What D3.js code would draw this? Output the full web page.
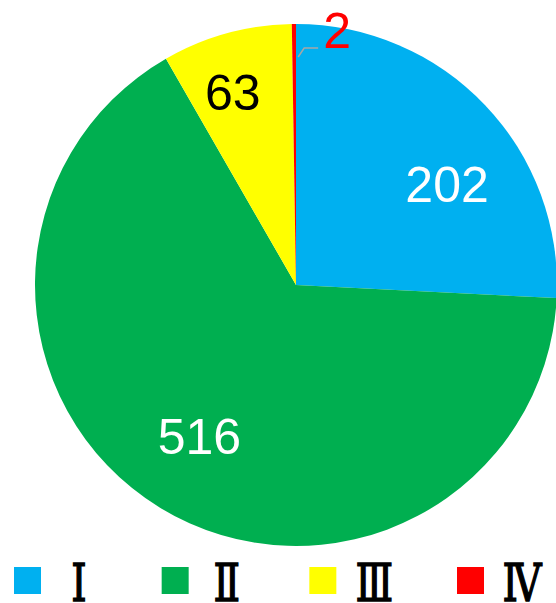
<!DOCTYPE html>
<html>
<head>
<meta charset="utf-8">
<script src="https://cdn.jsdelivr.net/npm/d3@7"></script>
<style>
  body { margin: 0; background: #fff; }
</style>
</head>
<body>
<div id="chart"></div>
<script>
const categories = ["Ⅰ", "Ⅱ", "Ⅲ", "Ⅳ"];
const values = [202, 516, 63, 2];
const colors = ["#00B0F0", "#00AF50", "#FFFF00", "#FF0000"];
const labelColors = ["#fff", "#fff", "#000", "#FF0000"];
// small nudges so labels sit where the original put them
const labelNudge = [[17, 27], [0, -6], [-14, -14], [0, 0]];

const width = 556, height = 603;
const cx = 296, cy = 285, radius = 261;

const svg = d3.select("#chart").append("svg")
    .attr("width", width)
    .attr("height", height);

const data = categories.map((c, i) => ({
    name: c, value: values[i], color: colors[i],
    labelColor: labelColors[i], nudge: labelNudge[i]
}));

const pie = d3.pie().value(d => d.value).sort(null);
const arcs = pie(data);

const arc = d3.arc().innerRadius(0).outerRadius(radius);
const labelArc = d3.arc().innerRadius(185).outerRadius(185);

const g = svg.append("g").attr("transform", `translate(${cx},${cy})`);

g.selectAll("path")
    .data(arcs)
    .join("path")
    .attr("d", arc)
    .attr("fill", d => d.data.color);

// inside labels for the big slices
g.selectAll(".label")
    .data(arcs.filter(d => d.data.value > 10))
    .join("text")
    .attr("class", "label")
    .attr("transform", d => {
        const c = labelArc.centroid(d);
        return `translate(${c[0] + d.data.nudge[0]},${c[1] + d.data.nudge[1]})`;
    })
    .attr("text-anchor", "middle")
    .attr("dominant-baseline", "central")
    .style("font-family", "Liberation Sans, Arial, sans-serif")
    .style("font-size", "50px")
    .style("fill", d => d.data.labelColor)
    .text(d => d.data.value);

// the tiny slice gets an outside label with a leader line
const small = arcs.filter(d => d.data.value <= 10);
small.forEach(d => {
    const mid = (d.startAngle + d.endAngle) / 2;
    const p0 = [Math.sin(mid) * 228 + 4, -Math.cos(mid) * 228];
    const p1 = [p0[0] + 6, p0[1] - 9];
    const p2 = [p1[0] + 14, p1[1]];
    g.append("polyline")
        .attr("points", [p0, p1, p2].map(p => p.join(",")).join(" "))
        .attr("fill", "none")
        .attr("stroke", "#A6A6A6")
        .attr("stroke-width", 1.5);
    g.append("text")
        .attr("x", p2[0] + 5)
        .attr("y", p2[1] - 17)
        .attr("dominant-baseline", "central")
        .style("font-family", "Liberation Sans, Arial, sans-serif")
        .style("font-size", "50px")
        .style("fill", d.data.labelColor)
        .text(d.data.value);
});

// legend
const legendX = d3.scalePoint().domain(categories).range([14, 457]);
const legend = svg.append("g").selectAll("g")
    .data(data)
    .join("g")
    .attr("transform", d => `translate(${legendX(d.name)},567)`);

legend.append("rect")
    .attr("width", 27)
    .attr("height", 27)
    .attr("fill", d => d.color);

// numerals are tall and narrow in the original: squeeze them horizontally
legend.append("text")
    .attr("transform", "translate(65,34) scale(0.85,1.12)")
    .attr("text-anchor", "middle")
    .style("font-family", "DejaVu Serif, serif")
    .style("font-size", "46px")
    .style("fill", "#000")
    .style("stroke", "#000")
    .style("stroke-width", "1.3px")
    .text(d => d.name);
</script>
</body>
</html>
